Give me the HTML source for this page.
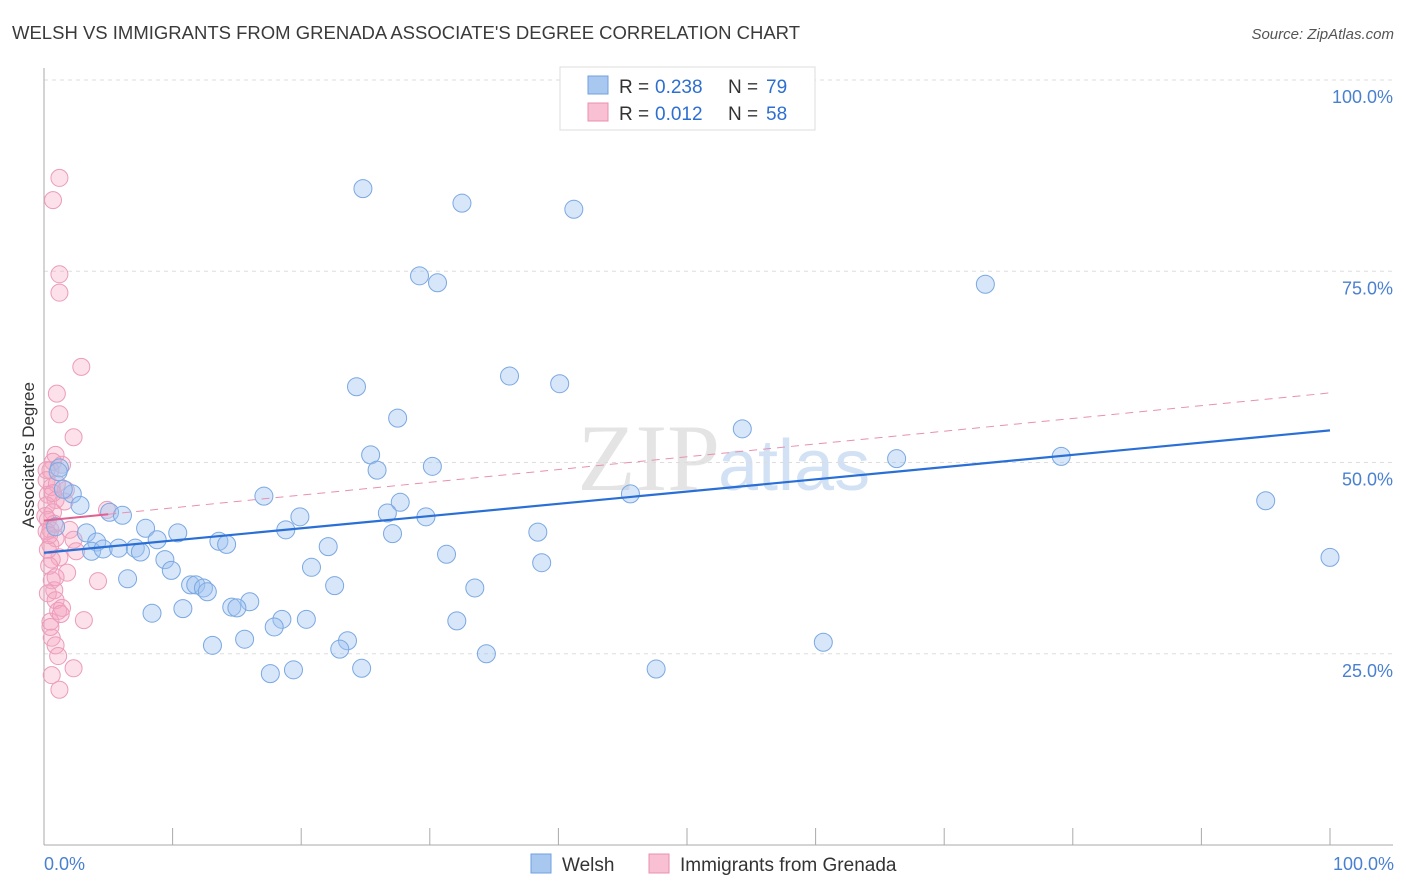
<!DOCTYPE html>
<html><head><meta charset="utf-8"><style>
body{margin:0;background:#fff;font-family:"Liberation Sans",sans-serif}
svg{display:block}
</style></head><body>
<svg width="1406" height="892" id="chart">
<text x="12" y="39" font-size="18" fill="#3a3a3a" textLength="788" lengthAdjust="spacingAndGlyphs">WELSH VS IMMIGRANTS FROM GRENADA ASSOCIATE'S DEGREE CORRELATION CHART</text>
<text x="1394" y="39" font-size="15" fill="#555" text-anchor="end" font-style="italic">Source: ZipAtlas.com</text>
<text x="720" y="490" font-size="95" fill="#e4e4e4" text-anchor="end" font-family="Liberation Serif">ZIP</text>
<text x="718" y="490" font-size="72" fill="#d2e2f4">atlas</text>
<g id="grid"></g>
<g id="axes"></g>
<g id="pts"></g>
<g id="trend"></g>
<text transform="translate(34,455) rotate(-90)" font-size="17" fill="#333" text-anchor="middle">Associate's Degree</text>
<text x="44" y="870" font-size="18" fill="#4a80d0">0.0%</text>
<text x="1394" y="870" font-size="18" fill="#4a80d0" text-anchor="end">100.0%</text>
<g>
<rect x="560" y="67" width="255" height="63" fill="#fff" stroke="#ddd"/>
<rect x="588" y="76" width="20" height="18" fill="#a9c8f0" stroke="#6fa0e0"/>
<rect x="588" y="103" width="20" height="18" fill="#f8c0d2" stroke="#e890b0"/>
<text x="619" y="93" font-size="19" fill="#333">R =</text>
<text x="655" y="93" font-size="19" fill="#2d6fd0">0.238</text>
<text x="728" y="93" font-size="19" fill="#333">N =</text>
<text x="766" y="93" font-size="19" fill="#2d6fd0">79</text>
<text x="619" y="120" font-size="19" fill="#333">R =</text>
<text x="655" y="120" font-size="19" fill="#2d6fd0">0.012</text>
<text x="728" y="120" font-size="19" fill="#333">N =</text>
<text x="766" y="120" font-size="19" fill="#2d6fd0">58</text>
</g>
<g>
<rect x="531" y="854" width="20" height="19" fill="#a9c8f0" stroke="#6fa0e0"/>
<text x="562" y="871" font-size="19" fill="#333">Welsh</text>
<rect x="649" y="854" width="20" height="19" fill="#f8c0d2" stroke="#e890b0"/>
<text x="680" y="871" font-size="19" fill="#333">Immigrants from Grenada</text>
</g>
</svg>
<script>
const yTicks=[25,50,75,100];
const yTickLabels=["25.0%","50.0%","75.0%","100.0%"];
const xTicks=[10,20,30,40,50,60,70,80,90,100];
const welshX=[24.8,32.5,41.2,29.2,30.6,73.2,36.2,24.3,40.1,27.5,54.3,25.4,66.3,79.1,30.2,25.9,1.2,1.1,2.2,17.1,45.6,95.0,2.8,27.7,5.1,6.1,19.9,26.7,29.7,0.9,7.9,3.3,10.4,18.8,27.1,38.4,8.8,4.1,13.6,14.2,22.1,3.7,4.6,5.8,7.1,7.5,31.3,9.4,100,38.7,9.9,20.8,6.5,11.4,11.8,12.4,12.7,22.6,33.5,16.0,14.6,15.0,8.4,10.8,18.5,20.4,17.9,32.1,23.6,15.6,60.6,13.1,23.0,34.4,24.7,47.6,19.4,17.6,1.5];
const welshY=[85.8,83.9,83.1,74.4,73.5,73.3,61.3,59.9,60.3,55.8,54.4,51.0,50.5,50.8,49.5,49.0,49.3,48.8,45.9,45.6,45.9,45.0,44.4,44.8,43.5,43.1,42.9,43.4,42.9,41.6,41.4,40.8,40.8,41.2,40.7,40.9,39.9,39.6,39.7,39.3,39.0,38.4,38.7,38.8,38.8,38.3,38.0,37.3,37.6,36.9,35.9,36.3,34.8,34.0,34.0,33.6,33.1,33.9,33.6,31.8,31.1,31.0,30.3,30.9,29.5,29.5,28.5,29.3,26.7,26.9,26.5,26.1,25.6,25.0,23.1,23.0,22.9,22.4,46.5];
const grenX=[1.2,0.7,1.2,1.2,2.9,1.0,1.2,2.3,0.9,0.7,0.5,1.7,0.6,0.3,0.9,0.2,4.9,0.7,0.3,0.5,0.9,2.0,2.3,0.5,2.5,1.2,0.6,1.8,4.2,0.6,0.8,0.3,0.9,1.1,1.4,3.1,0.5,0.6,0.9,1.1,2.3,0.6,1.2,0.2,0.2,1.4,0.2,0.3,1.6,0.4,0.8,1.0,0.4,0.1,1.3,0.5,0.7,0.9];
const grenY=[87.2,84.3,74.6,72.2,62.5,59.0,56.3,53.3,51.0,50.1,49.0,46.4,46.8,45.8,45.1,44.4,43.8,43.5,42.5,41.2,40.1,41.2,39.9,39.2,38.4,37.6,37.3,35.6,34.5,34.6,33.3,32.9,32.0,30.6,31.0,29.4,29.2,27.1,26.1,24.7,23.1,22.2,20.3,49.0,47.7,49.7,41.0,38.6,44.9,36.5,42.0,47.2,40.5,43.0,30.2,28.5,46.0,35.0];
const welshTrend=[38.2,54.2];
const grenTrend=[42.4,59.1];
const X0=44,X1=1330,Y0=845,Y1=80;
const sx=v=>X0+(X1-X0)*v/100, sy=v=>Y0-(Y0-Y1)*v/100;
const NS="http://www.w3.org/2000/svg";
function mk(t,a,p){const e=document.createElementNS(NS,t);for(const k in a)e.setAttribute(k,a[k]);p.appendChild(e);return e;}
const grid=document.getElementById('grid'),axes=document.getElementById('axes'),pts=document.getElementById('pts'),tr=document.getElementById('trend');
yTicks.forEach((t,i)=>{const l=mk('line',{x1:X0,x2:1393,y1:sy(t),y2:sy(t),stroke:'#ddd','stroke-dasharray':'4,4'},grid);


const tx=mk('text',{x:1393,y:sy(t)+23,'font-size':18,fill:'#4a80d0','text-anchor':'end'},grid);tx.textContent=yTickLabels[i];

});
mk('line',{x1:X0,x2:X0,y1:68,y2:Y0,stroke:'#aaa'},axes);
mk('line',{x1:X0,x2:1393,y1:Y0,y2:Y0,stroke:'#aaa'},axes);
xTicks.forEach(t=>{const l=mk('line',{x1:sx(t),x2:sx(t),y1:828,y2:Y0,stroke:'#aaa'},axes);

});
grenX.forEach((x,i)=>{const c=mk('circle',{cx:sx(x),cy:sy(grenY[i]),r:8.5,fill:'rgba(245,165,192,0.33)',stroke:'#eb9cba','stroke-width':1},pts);

});
welshX.forEach((x,i)=>{const c=mk('circle',{cx:sx(x),cy:sy(welshY[i]),r:9,fill:'rgba(160,196,240,0.42)',stroke:'#7aa8e2','stroke-width':1},pts);

});
const bt=mk('line',{x1:sx(0),y1:sy(welshTrend[0]),x2:sx(100),y2:sy(welshTrend[1]),stroke:'#2a6fd6','stroke-width':2.2},tr);


const gy=v=>grenTrend[0]+(grenTrend[1]-grenTrend[0])*v/100;
const gt=mk('line',{x1:sx(0),y1:sy(gy(0)),x2:sx(5),y2:sy(gy(5)),stroke:'#e06090','stroke-width':2},tr);


const gd=mk('line',{x1:sx(5),y1:sy(gy(5)),x2:sx(100),y2:sy(gy(100)),stroke:'#e890b0','stroke-width':1,'stroke-dasharray':'8,6'},tr);


</script>
</body></html>
